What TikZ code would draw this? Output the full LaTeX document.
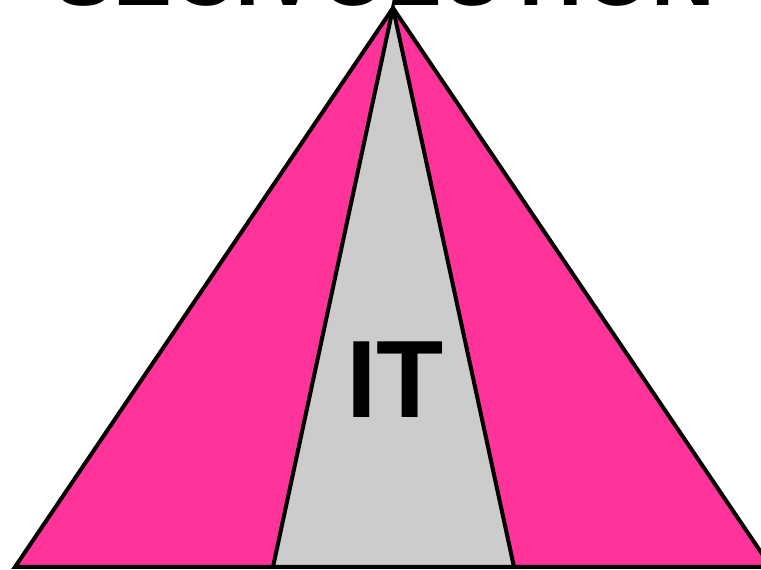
\documentclass[tikz,border=0pt]{standalone}
\usepackage{fontspec}
\setmainfont{Liberation Sans}
\usepackage{tikz}
\definecolor{pyrpink}{RGB}{255, 51, 153}
\definecolor{itgray}{RGB}{204, 204, 204}

\begin{document}
\begin{tikzpicture}[x=1pt, y=1pt, line width=4pt, line join=miter]
		%Bildbereich
		\useasboundingbox (0,0) rectangle (761,570);
		% Pyramide zeichnen
		\coordinate (spitze) at (393,562);
		\coordinate (linksunten) at (15,3);
		\coordinate (rechtsunten) at (771,3);
		\coordinate (itlinks) at (273,3);
		\coordinate (itrechts) at (514,3);
		\draw[fill=pyrpink] (spitze) -- (linksunten) -- (rechtsunten) -- cycle;
		\draw[fill=itgray] (spitze) -- (itlinks) -- (itrechts) -- cycle;
		%Beschriftung
		\node[font=\fontsize{110}{110}\selectfont\bfseries] (it) at (395,190) {IT};
		\node[anchor=base, inner sep=0pt, font=\fontsize{88}{88}\selectfont\bfseries] (titel) at (385,564) {SECIVOLUTION};
\end{tikzpicture}
\end{document}
